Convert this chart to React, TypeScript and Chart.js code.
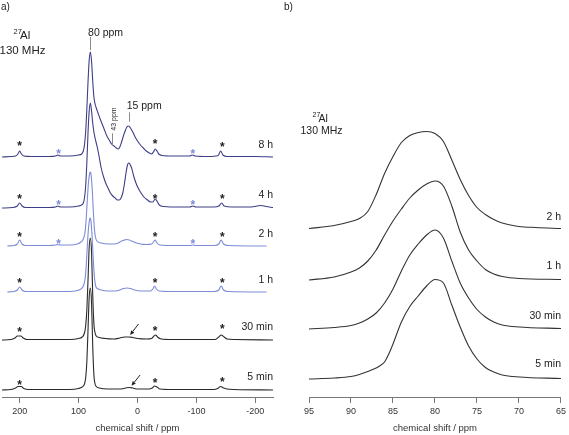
import React, { useEffect, useRef } from 'react';
import { Chart, registerables } from 'chart.js';

Chart.register(...registerables);

const FONT = '"Liberation Sans", Arial, Helvetica, sans-serif';
const TEXT = '#222222';
const AXIS = '#777777';

// ---------------- Panel a : full spectra (ppm, intensity) ----------------
const labelsA = ['8 h', '4 h', '2 h', '1 h', '30 min', '5 min'];

const spec8h: number[][] = [
  [230, 0], [215, 0.5], [207, 1], [203, 3], [200, 6], [197, 3], [193, 1], [180, 0.5], [150, 0.5],
  [139, 1], [135, 2], [131, 1], [115, 1], [100, 2], [95, 3], [92, 6], [90, 12], [88, 25], [86, 48],
  [84, 75], [82, 97], [80, 105], [78, 96], [76, 76], [74, 60], [72, 53], [70, 49], [67, 44], [64, 39],
  [60, 33], [56, 27], [52, 21], [48, 17], [44, 13], [40, 11], [36, 9], [33, 8], [30, 10], [27, 15],
  [24, 21], [21, 26], [18, 30], [15, 31], [12, 29], [8, 25], [4, 20], [0, 16], [-5, 12], [-10, 9],
  [-15, 6], [-20, 4], [-24, 3], [-27, 5], [-30, 8], [-33, 6], [-36, 3], [-42, 1.5], [-60, 1], [-88, 1],
  [-93, 2], [-98, 1], [-120, 0.5], [-137, 1.5], [-141, 6], [-145, 2], [-152, 0.5], [-200, 0.5], [-230, 0],
];
const spec4h: number[][] = [
  [230, 0], [212, 0.5], [204, 2], [200, 5], [196, 2], [190, 0.5], [150, 0.5], [139, 1], [135, 2],
  [131, 1], [115, 1], [100, 2], [95, 3], [92, 5], [90, 10], [88, 22], [86, 45], [84, 75], [82, 97],
  [80, 105], [78, 97], [76, 85], [74, 76], [72, 70], [70, 65], [68, 60], [65, 51], [62, 41], [58, 32],
  [54, 25], [50, 20], [46, 15], [42, 12], [38, 10], [34, 8], [31, 8], [28, 10], [25, 15], [22, 25],
  [19, 37], [17, 43], [15, 45], [13, 44], [10, 40], [6, 31], [2, 24], [-2, 19], [-6, 15], [-11, 11],
  [-17, 8], [-22, 6], [-26, 6], [-30, 9], [-33, 7], [-37, 3], [-45, 1.5], [-70, 1], [-89, 1], [-94, 2],
  [-99, 1], [-130, 1], [-138, 2], [-143, 5], [-147, 2], [-160, 1], [-190, 1], [-203, 2], [-210, 2.5],
  [-218, 1.5], [-230, 0.5],
];
const spec2h: number[][] = [
  [221, 0], [210, 0.5], [204, 2], [200, 6], [196, 2], [190, 0.5], [150, 0.5], [139, 1], [135, 1.5],
  [131, 1], [115, 1], [102, 2], [96, 4], [92, 7], [89, 14], [87, 28], [85, 48], [83, 65], [81, 73],
  [80, 74], [79, 72], [77, 58], [75, 35], [73, 16], [71, 8], [68, 4.5], [62, 3], [50, 2], [40, 2],
  [33, 3], [27, 5], [22, 6], [18, 6.5], [14, 6], [8, 4.5], [2, 3], [-5, 2], [-15, 1.5], [-24, 2],
  [-27, 4], [-30, 6], [-33, 3], [-38, 1], [-60, 0.5], [-89, 0.5], [-94, 1], [-99, 0.5], [-130, 0.5],
  [-138, 2], [-142, 6], [-146, 2], [-155, 0.5], [-219, 0],
];
const spec1h: number[][] = [
  [221, 0], [210, 0.5], [204, 2], [200, 5], [196, 2], [190, 0.5], [115, 0.5], [102, 1.5], [96, 3],
  [92, 6], [89, 13], [87, 27], [85, 48], [83, 65], [81, 73], [80, 74], [79, 71], [77, 55], [75, 32],
  [73, 14], [71, 6], [68, 3.5], [62, 2], [50, 1], [38, 1], [30, 2], [24, 3.5], [18, 4], [12, 3.5],
  [5, 2], [-5, 1], [-22, 1], [-26, 3], [-29, 6], [-32, 3], [-37, 1], [-60, 0.5], [-130, 0.5],
  [-138, 2], [-142, 6], [-146, 2], [-155, 0.5], [-219, 0],
];
const spec30m: number[][] = [
  [230, 0], [215, 0.5], [208, 2], [204, 4], [198, 4], [194, 2], [188, 0.5], [115, 0.5], [100, 1.5],
  [94, 3], [90, 7], [88, 14], [86, 30], [84, 60], [82, 93], [80, 102], [78, 88], [76, 45], [74, 16],
  [72, 7], [70, 4], [65, 2.5], [55, 1.5], [40, 1], [30, 2], [22, 3], [15, 3], [8, 2.5], [0, 1.5],
  [-15, 1], [-24, 1.5], [-28, 4], [-31, 5], [-34, 3], [-40, 1], [-60, 0.5], [-132, 0.5], [-138, 3],
  [-142, 5], [-147, 3], [-152, 1], [-165, 0.5], [-230, 0],
];
const spec5m: number[][] = [
  [230, 0], [215, 0.5], [207, 2], [203, 3.5], [197, 3.5], [193, 1.5], [185, 0.5], [115, 0.5],
  [100, 1.5], [94, 3], [90, 6], [88, 12], [86, 28], [84, 60], [82, 93], [80, 102], [78, 87], [76, 44],
  [74, 15], [72, 6], [70, 3.5], [65, 2], [50, 1], [30, 1], [20, 2], [14, 2.5], [8, 2], [0, 1],
  [-20, 1], [-25, 2], [-29, 4], [-33, 3], [-38, 1], [-60, 0.5], [-130, 0.5], [-136, 1.5], [-141, 3.5],
  [-146, 2], [-152, 1], [-165, 0.5], [-230, 0],
];
const spectraA = [spec8h, spec4h, spec2h, spec1h, spec30m, spec5m];
const stackA = [240, 189, 151, 105, 57, 7];
const colorsA = ['#3d3e86', '#3d3e86', '#7d8bd8', '#7d8bd8', '#2a2a2a', '#2a2a2a'];
const labelLiftA = [12, 13, 12, 11.5, 12.5, 13];
const xLimitsA = [-230, 230];
const xStepA = 100;

const starRowsA = [
  { series: 0, blue: false, ppm: [200, -30, -144], lift: [14, 16, 13] },
  { series: 0, blue: true, ppm: [134, -94], lift: [6.3, 6.3] },
  { series: 1, blue: false, ppm: [200, -30, -144], lift: [12, 12, 11.5] },
  { series: 1, blue: true, ppm: [134, -94], lift: [6.3, 6.3] },
  { series: 2, blue: false, ppm: [200, -30, -144], lift: [11.7, 11.7, 11.7] },
  { series: 2, blue: true, ppm: [134, -94], lift: [5, 5] },
  { series: 3, blue: false, ppm: [200, -30, -144], lift: [12, 12, 12] },
  { series: 4, blue: false, ppm: [200, -30, -144], lift: [10.7, 12.3, 14.3] },
  { series: 5, blue: false, ppm: [200, -30, -144], lift: [8.3, 10, 11] },
];
const markersA = [
  { text: '80 ppm', ppm: 80, low: 347, high: 360, textY: 361.5, dx: -2.3, size: 10.5, vertical: false },
  { text: '15 ppm', ppm: 15, low: 275.3, high: 284.7, textY: 288.5, dx: -2, size: 10.5, vertical: false },
  { text: '43 ppm', ppm: 43, low: 251.3, high: 263.7, textY: 278, dx: 2, size: 7, vertical: true },
];
const arrowsA = [
  { series: 4, from: [-1.7, 16], to: [12.6, 5] },
  { series: 5, from: [-4.4, 15], to: [10.2, 4.3] },
];

// ---------------- Panel b : expansion of the 80 ppm line ----------------
const labelsB = ['2 h', '1 h', '30 min', '5 min'];
const b2h: number[][] = [
  [95, 0], [92, 3], [90, 7], [89, 10], [88, 17], [87, 34], [86, 55], [85, 72], [84, 86], [83, 93],
  [82, 96], [81, 97], [80, 95], [79, 87], [78, 68.5], [77, 49], [76, 33], [75, 21], [74, 14], [73, 9],
  [72, 5.5], [71, 3.5], [70, 2], [68, 1], [65, 0],
];
const b1h: number[][] = [
  [95, 0], [92, 3], [90, 8], [89, 12], [88, 19], [87, 30], [86, 45], [85, 59], [84, 71], [83, 82],
  [82, 90], [81, 96], [80, 99], [79, 94], [78, 74], [77, 48], [76, 30], [75, 19], [74, 10.5], [73, 6],
  [72, 3.5], [70, 1.5], [65, 0.5],
];
const b30m: number[][] = [
  [95, 0], [92, 1.5], [90, 3.5], [89, 6], [88, 10], [87, 16], [86, 26], [85, 40], [84, 58], [83, 74],
  [82, 85], [81, 94], [80, 99], [79, 91], [78, 68], [77, 46], [76, 31], [75, 19.5], [74, 12], [73, 7],
  [72, 4], [70, 2], [65, 0.5],
];
const b5m: number[][] = [
  [95, 0], [92, 1], [90, 2.5], [89, 4.5], [88, 7.5], [87, 11], [86.5, 13.5], [86, 17], [85.5, 25],
  [85, 35], [84, 57], [83, 72.5], [82, 83], [81, 93], [80, 99.5], [79, 96], [78, 74], [77, 52], [76, 33],
  [75, 20], [74, 11.5], [73, 7], [72, 4], [70, 2], [65, 0.5],
];
const spectraB = [b2h, b1h, b30m, b5m];
const stackB = [168.5, 117, 68, 18];
const colorsB = ['#333333', '#333333', '#333333', '#333333'];
const labelLiftB = [11.8, 14.3, 13.3, 14.7];
const xLimitsB = [65, 95];
const xStepB = 5;

const Y_RANGE = [0, 397];

function makeDatasets(spectra: number[][][], stack: number[], colors: string[], labels: string[]) {
  return spectra.map((s, i) => ({
    label: labels[i],
    data: s.map(([x, y]) => ({ x, y: y + stack[i] })),
    borderColor: colors[i],
    borderWidth: 1.1,
    pointRadius: 0,
    fill: false,
    cubicInterpolationMode: 'monotone' as const,
  }));
}

function makeOptions(limits: number[], step: number, pad: { left: number; right: number }) {
  return {
    animation: false as const,
    responsive: false,
    events: [] as any[],
    layout: { padding: { left: pad.left, right: pad.right, top: 0, bottom: 0 } },
    plugins: { legend: { display: false }, tooltip: { enabled: false } },
    scales: {
      x: {
        type: 'linear' as const,
        min: limits[0],
        max: limits[1],
        reverse: true,
        afterFit: (s: any) => { s.height = 38; },
        grid: { display: true, drawOnChartArea: false, drawTicks: true, tickLength: 6, color: AXIS },
        border: { display: true, color: AXIS, width: 1 },
        ticks: {
          stepSize: step, includeBounds: false, maxRotation: 0, autoSkip: false,
          color: '#333', font: { size: 9, family: FONT }, padding: 3,
        },
        title: {
          display: true, text: 'chemical shift / ppm', color: '#333',
          font: { size: 9.5, family: FONT }, padding: { top: 0, bottom: 1 },
        },
      },
      y: { type: 'linear' as const, display: false, min: Y_RANGE[0], max: Y_RANGE[1] },
    },
  };
}

const plotA = {
  id: 'annotA',
  afterDatasetsDraw(chart: any) {
    const { ctx } = chart;
    const xs = chart.scales.x, ys = chart.scales.y;
    const X = (v: number) => xs.getPixelForValue(v);
    const Y = (v: number) => ys.getPixelForValue(v);
    ctx.save();
    ctx.fillStyle = TEXT;
    ctx.textAlign = 'left';
    ctx.textBaseline = 'middle';
    ctx.font = `10px ${FONT}`;
    ctx.fillText('a)', 1, 7);
    ctx.textBaseline = 'alphabetic';
    ctx.font = `7.5px ${FONT}`;
    ctx.fillText('27', 13.5, 33.5);
    ctx.font = `11.5px ${FONT}`;
    ctx.fillText('Al', 20, 39);
    ctx.textAlign = 'center';
    ctx.fillText('130 MHz', 22.5, 54);

    ctx.textAlign = 'right';
    ctx.textBaseline = 'middle';
    ctx.font = `10.5px ${FONT}`;
    labelsA.forEach((t, i) => ctx.fillText(t, xs.right, Y(stackA[i] + labelLiftA[i])));

    ctx.textAlign = 'center';
    ctx.textBaseline = 'alphabetic';
    const starSize = 12;
    ctx.font = `bold ${starSize}px ${FONT}`;
    starRowsA.forEach(r => {
      ctx.fillStyle = r.blue ? '#7d8bd8' : TEXT;
      r.ppm.forEach((p, k) => {
        ctx.fillText('*', X(p), Y(stackA[r.series] + r.lift[k]) + 0.575 * starSize);
      });
    });

    ctx.strokeStyle = '#8a8a8a';
    ctx.lineWidth = 1;
    ctx.fillStyle = TEXT;
    markersA.forEach(m => {
      const px = Math.round(X(m.ppm)) + 0.5;
      ctx.beginPath();
      ctx.moveTo(px, Y(m.low));
      ctx.lineTo(px, Y(m.high));
      ctx.stroke();
      ctx.font = `${m.size}px ${FONT}`;
      if (m.vertical) {
        ctx.save();
        ctx.translate(X(m.ppm) + m.dx, Y(m.textY));
        ctx.rotate(-Math.PI / 2);
        ctx.textAlign = 'center';
        ctx.textBaseline = 'middle';
        ctx.fillText(m.text, 0, 0);
        ctx.restore();
      } else {
        ctx.textAlign = 'left';
        ctx.textBaseline = 'alphabetic';
        ctx.fillText(m.text, X(m.ppm) + m.dx, Y(m.textY));
      }
    });

    ctx.strokeStyle = TEXT;
    ctx.fillStyle = TEXT;
    arrowsA.forEach(a => {
      const x0 = X(a.from[0]), y0 = Y(stackA[a.series] + a.from[1]);
      const x1 = X(a.to[0]), y1 = Y(stackA[a.series] + a.to[1]);
      const ang = Math.atan2(y1 - y0, x1 - x0);
      const hl = 4.5, hw = 2;
      const bx = x1 - hl * Math.cos(ang), by = y1 - hl * Math.sin(ang);
      ctx.beginPath();
      ctx.moveTo(x0, y0);
      ctx.lineTo(bx, by);
      ctx.stroke();
      ctx.beginPath();
      ctx.moveTo(x1, y1);
      ctx.lineTo(bx + hw * Math.sin(ang), by - hw * Math.cos(ang));
      ctx.lineTo(bx - hw * Math.sin(ang), by + hw * Math.cos(ang));
      ctx.closePath();
      ctx.fill();
    });
    ctx.restore();
  },
};

const plotB = {
  id: 'annotB',
  afterDatasetsDraw(chart: any) {
    const { ctx } = chart;
    const xs = chart.scales.x, ys = chart.scales.y;
    const Y = (v: number) => ys.getPixelForValue(v);
    ctx.save();
    ctx.fillStyle = TEXT;
    ctx.textAlign = 'left';
    ctx.textBaseline = 'middle';
    ctx.font = `10px ${FONT}`;
    ctx.fillText('b)', 4, 7);
    ctx.textBaseline = 'alphabetic';
    ctx.font = `7px ${FONT}`;
    ctx.fillText('27', 32.5, 117);
    ctx.font = `10.5px ${FONT}`;
    ctx.fillText('Al', 38.5, 122);
    ctx.textAlign = 'center';
    ctx.fillText('130 MHz', 41.5, 134);

    ctx.textAlign = 'right';
    ctx.textBaseline = 'middle';
    ctx.font = `10.5px ${FONT}`;
    labelsB.forEach((t, i) => ctx.fillText(t, xs.right, Y(stackB[i] + labelLiftB[i])));
    ctx.restore();
  },
};

export default function App() {
  const refA = useRef<HTMLCanvasElement>(null);
  const refB = useRef<HTMLCanvasElement>(null);

  useEffect(() => {
    Chart.defaults.font.family = FONT;
    const chartA = new Chart(refA.current as HTMLCanvasElement, {
      type: 'line',
      data: { datasets: makeDatasets(spectraA, stackA, colorsA, labelsA) as any },
      options: makeOptions(xLimitsA, xStepA, { left: 2, right: 17 }) as any,
      plugins: [plotA],
    });
    const chartB = new Chart(refB.current as HTMLCanvasElement, {
      type: 'line',
      data: { datasets: makeDatasets(spectraB, stackB, colorsB, labelsB) as any },
      options: makeOptions(xLimitsB, xStepB, { left: 29, right: 6 }) as any,
      plugins: [plotB],
    });
    return () => {
      chartA.destroy();
      chartB.destroy();
    };
  }, []);

  return (
    <div style={{ position: 'absolute', left: 0, top: 0, width: 569, height: 435, background: '#fff' }}>
      <canvas ref={refA} width={290} height={435}
        style={{ position: 'absolute', left: 0, top: 0, width: 290, height: 435 }} />
      <canvas ref={refB} width={289} height={435}
        style={{ position: 'absolute', left: 280, top: 0, width: 289, height: 435 }} />
    </div>
  );
}
